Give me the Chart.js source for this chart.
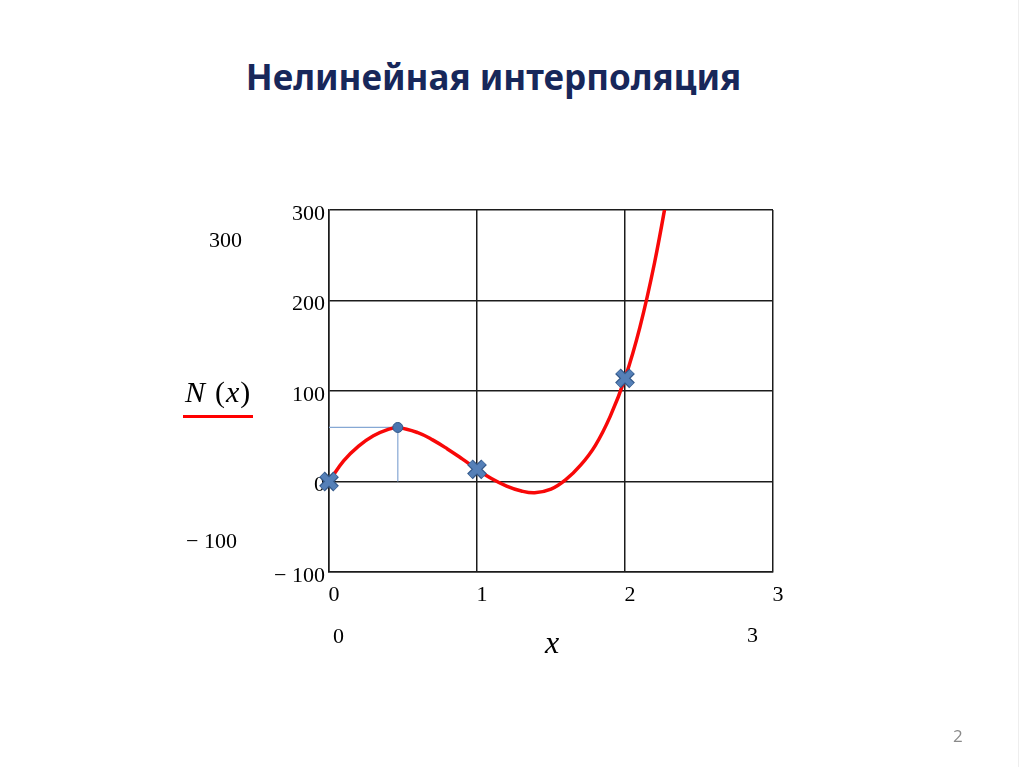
<!DOCTYPE html>
<html lang="ru">
<head>
  <meta charset="UTF-8">
  <title>Нелинейная интерполяция</title>
  <style>
    body {
      margin: 0;
      background: #ffffff;
    }
    .slide {
      position: relative;
      width: 1024px;
      height: 767px;
      overflow: hidden;
      background: #ffffff;
    }
    .slide h1 {
      position: absolute;
      top: 53px;
      left: 0;
      width: 987px;
      margin: 0;
      text-align: center;
      font-family: 'Noto Sans', sans-serif;
      font-weight: bold;
      font-size: 35px;
      color: #17275a;
    }
    .pagenum {
      position: absolute;
      left: 953px;
      top: 724px;
      font-family: 'Open Sans', sans-serif;
      font-size: 17px;
      color: #8a8a8a;
    }
    .edge-r {
      position: absolute;
      left: 1018px;
      top: 0;
      width: 1px;
      height: 767px;
      background: #eeeeee;
    }
    #graph {
      position: absolute;
      left: 0;
      top: 0;
    }
  </style>
</head>
<body>
  <div class="slide">
    <h1>Нелинейная интерполяция</h1>
    <canvas id="graph" width="1024" height="767"></canvas>
    <div class="pagenum">2</div>
    <div class="edge-r"></div>
  </div>

  <script src="https://cdn.jsdelivr.net/npm/chart.js"></script>
  <script>
    // curve N(x)
    const curveX = [0, 0.1, 0.2, 0.3, 0.4, 0.465, 0.6, 0.7, 0.8, 0.9, 1.0, 1.1, 1.2, 1.3, 1.39, 1.5, 1.6, 1.7, 1.8, 1.9, 2.0, 2.1, 2.2, 2.3];
    const curveY = [0, 23, 39, 50.5, 57.5, 59.7, 54, 46, 36, 25, 13.5, 3, -5, -10.5, -12.5, -8.5, 2, 18, 40, 72, 114, 170, 242, 330];

    // interpolation nodes (crosses)
    const nodeX = [0, 1, 2];
    const nodeY = [0, 13.5, 114];

    // maximum with guide lines
    const peakX = 0.465;
    const peakY = 59.7;

    const xTicks = [0, 1, 2, 3];
    const yTicks = [-100, 0, 100, 200, 300];

    const serif = "'Liberation Serif', 'DejaVu Serif', serif";
    const gridColor = '#1c1c1c';
    const minus = v => v < 0 ? '\u2212 ' + Math.abs(v) : String(v);

    const pts = (xs, ys) => xs.map((x, i) => ({ x: x, y: ys[i] }));

    // texts that Mathcad puts around the plot
    const slideText = {
      id: 'slideText',
      afterDraw(chart) {
        const ctx = chart.ctx;
        const a = chart.chartArea;
        ctx.save();
        ctx.fillStyle = '#000';
        ctx.textBaseline = 'middle';
        ctx.textAlign = 'left';
        ctx.font = '22px ' + serif;
        ctx.fillText(minus(yTicks[yTicks.length - 1]), a.left - 120, a.top + 31);
        ctx.fillText(minus(yTicks[0]), a.left - 143, a.bottom - 30);
        ctx.fillText(xTicks[0], a.left + 4, a.bottom + 65);
        ctx.textAlign = 'right';
        ctx.fillText(xTicks[xTicks.length - 1], a.right - 15, a.bottom + 64);

        // axis name x
        ctx.textAlign = 'center';
        ctx.font = 'italic 32px ' + serif;
        ctx.fillText('x', (a.left + a.right) / 2 + 1, a.bottom + 73);

        // N (x) with red legend line
        ctx.textAlign = 'left';
        let lx = a.left - 144;
        const ly = a.top + 184;
        ctx.font = 'italic 30px ' + serif;
        ctx.fillText('N', lx, ly);
        lx += ctx.measureText('N').width + 10;
        ctx.font = '30px ' + serif;
        ctx.fillText('(', lx, ly);
        lx += ctx.measureText('(').width + 1;
        ctx.font = 'italic 30px ' + serif;
        ctx.fillText('x', lx, ly);
        lx += ctx.measureText('x').width + 1;
        ctx.font = '30px ' + serif;
        ctx.fillText(')', lx, ly);

        ctx.strokeStyle = '#ff0000';
        ctx.lineWidth = 3;
        ctx.beginPath();
        ctx.moveTo(a.left - 146, a.top + 206.5);
        ctx.lineTo(a.left - 76, a.top + 206.5);
        ctx.stroke();
        ctx.restore();
      }
    };

    new Chart(document.getElementById('graph'), {
      type: 'line',
      data: {
        datasets: [
          {
            // crosses, light fill
            data: pts(nodeX, nodeY),
            showLine: false,
            clip: false,
            pointStyle: 'crossRot',
            pointRadius: 9.5,
            pointBorderWidth: 5.5,
            pointBorderColor: '#5580b8',
            pointBackgroundColor: '#5580b8',
            order: 0
          },
          {
            // crosses, dark outline
            data: pts(nodeX, nodeY),
            showLine: false,
            clip: false,
            pointStyle: 'crossRot',
            pointRadius: 10,
            pointBorderWidth: 8,
            pointBorderColor: '#34598a',
            pointBackgroundColor: '#34598a',
            order: 1
          },
          {
            data: [{ x: peakX, y: peakY }],
            showLine: false,
            clip: false,
            pointRadius: 5,
            pointBorderWidth: 1,
            pointBorderColor: '#2f5687',
            pointBackgroundColor: '#4a76b0',
            order: 2
          },
          {
            label: 'N(x)',
            data: pts(curveX, curveY),
            borderColor: '#f80808',
            borderWidth: 3.5,
            pointRadius: 0,
            tension: 0.4,
            order: 3
          },
          {
            // guide lines to the maximum
            data: [{ x: 0, y: peakY }, { x: peakX, y: peakY }, { x: peakX, y: 0 }],
            borderColor: '#86a8d4',
            borderWidth: 1.2,
            pointRadius: 0,
            tension: 0,
            order: 4
          }
        ]
      },
      options: {
        responsive: false,
        animation: false,
        layout: {
          padding: { left: 249, right: 251, top: 210, bottom: 145 }
        },
        plugins: {
          legend: { display: false },
          tooltip: { enabled: false },
          title: { display: false }
        },
        scales: {
          x: {
            type: 'linear',
            min: 0,
            max: 3,
            afterFit(s) { s.height = 50; },
            afterBuildTicks(s) { s.ticks = xTicks.map(v => ({ value: v })); },
            grid: { color: gridColor, lineWidth: 1.5, drawTicks: false },
            border: { color: gridColor, width: 1.5 },
            ticks: {
              color: '#000',
              font: { family: serif, size: 22 },
              padding: 10,
              labelOffset: 5,
              maxRotation: 0
            }
          },
          y: {
            min: -100,
            max: 300,
            afterFit(s) { s.width = 80; },
            afterBuildTicks(s) { s.ticks = yTicks.map(v => ({ value: v })); },
            grid: { color: gridColor, lineWidth: 1.5, drawTicks: false },
            border: { color: gridColor, width: 1.5 },
            ticks: {
              color: '#000',
              font: { family: serif, size: 22 },
              padding: 4,
              labelOffset: 4,
              callback: minus
            }
          }
        }
      },
      plugins: [slideText]
    });
  </script>
</body>
</html>
